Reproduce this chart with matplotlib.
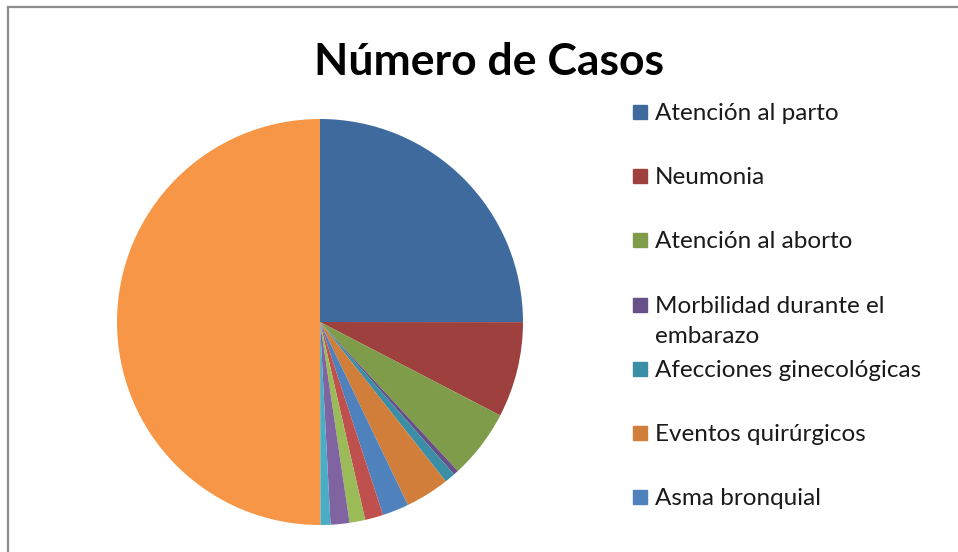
import matplotlib
matplotlib.use('Agg')
import matplotlib.pyplot as plt
from matplotlib.patches import Rectangle
from matplotlib.lines import Line2D

# Slice values (share of cases), clockwise from 12 o'clock
labels = ['Atención al parto', 'Neumonia', 'Atención al aborto',
          'Morbilidad durante el\nembarazo', 'Afecciones ginecológicas',
          'Eventos quirúrgicos', 'Asma bronquial',
          '', '', '', '', '']
values = [25.0, 7.6, 5.5, 0.4, 0.85, 3.5, 2.1, 1.45, 1.25, 1.5, 0.8, 50.0]
colors = ['#3F6A9E', '#9E413E', '#7F9C4A', '#674F87', '#3A8EA5', '#D17E3A',
          '#4F81BD', '#C0504D', '#9BBB59', '#8064A2', '#4BACC6', '#F79646']
n_legend = 7

W, H = 958, 552
fig = plt.figure(figsize=(W / 100, H / 100), dpi=100)
fig.patch.set_facecolor('white')

# chart frame (only top and left edges visible in the crop)
fig.add_artist(Line2D([8 / W, 8 / W], [0, 1 - 7 / H], color='#8C8C8C', lw=1.6))
fig.add_artist(Line2D([8 / W, 1], [1 - 7 / H, 1 - 7 / H], color='#8C8C8C', lw=1.6))

# pie axes: centre (320, 322), radius 203 px
r = 203
cx, cy = 320, 322
ax = fig.add_axes([(cx - r) / W, (H - cy - r) / H, 2 * r / W, 2 * r / H])
wedges, _ = ax.pie(values, colors=colors, startangle=90, counterclock=False,
                   radius=1, wedgeprops=dict(linewidth=0))
ax.set_xlim(-1, 1)
ax.set_ylim(-1, 1)
ax.set_aspect('equal')
ax.axis('off')

fig.text(489 / W, 1 - 75 / H, 'Número de Casos', ha='center', va='baseline',
         fontsize=32, fontweight='bold', family='Lato')

# legend, first 7 entries only (as in the original)
y0, step, line_h = 112, 64.2, 30
for i in range(n_legend):
    y = y0 + i * step
    extra = labels[i].count('\n') * line_h   # baseline refers to last line
    fig.add_artist(Rectangle((633 / W, 1 - (y + 7) / H), 14 / W, 14 / H,
                             transform=fig.transFigure, color=colors[i]))
    fig.text(655 / W, 1 - (y + 8 + extra) / H, labels[i], ha='left',
             va='baseline', fontsize=17.5, family='Lato', color='#1A1A1A',
             linespacing=1.5)

fig.savefig('out.png', dpi=100)
